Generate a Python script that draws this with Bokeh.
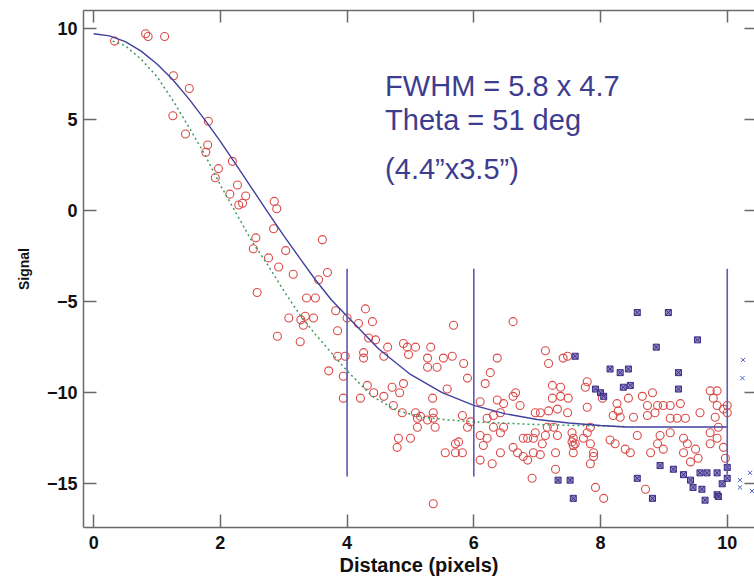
from bokeh.plotting import figure
from bokeh.models import Range1d, LinearAxis, FixedTicker, Label, CustomLabelingPolicy
from bokeh.embed import file_html
from bokeh.resources import INLINE

# ---------------- data ----------------
red_x = [0.33, 0.82, 0.86, 1.12, 1.26, 1.51, 1.81, 1.25, 1.45, 1.8, 1.77, 1.97, 1.92, 2.19, 2.27, 2.15,
         2.4, 2.35, 2.29, 2.85, 2.89, 2.84, 2.56, 2.52, 2.76, 2.92, 3.03, 3.15,
         3.61, 3.69, 3.55, 2.58, 3.36, 3.5, 3.08, 3.27, 3.34, 3.47, 3.31, 3.82, 4.0, 4.29, 4.18, 4.4,
         3.85, 2.9, 3.26, 4.34, 4.45, 4.64, 4.58, 3.85, 3.97, 4.26, 4.26, 3.71, 3.94, 4.32, 4.42, 4.58,
         4.71, 4.83, 4.21, 3.94, 4.73, 4.87, 5.11, 5.11, 5.0, 4.79, 4.95, 5.08, 4.97, 5.68, 6.62, 6.37,
         5.84, 5.32, 5.52, 5.42, 5.27, 4.89, 6.18, 6.66, 6.26, 5.9, 5.58,
         5.66, 5.27, 5.35, 4.89, 5.16, 5.08, 5.36, 5.36, 5.27, 5.39, 5.82, 5.95, 5.9, 5.71, 5.71, 5.55,
         5.82, 6.1, 6.21, 6.15, 6.1, 6.29, 6.1, 6.37, 6.47, 6.62, 6.73, 6.31, 6.42, 6.21, 6.47, 6.42,
         6.31, 6.62, 6.42, 6.69, 6.78, 6.85, 6.94, 7.05, 6.85, 6.94, 7.08, 6.97, 7.13, 7.29, 7.57, 7.57,
         7.57, 7.32, 7.16, 6.97, 7.05, 7.18, 7.32, 7.48, 7.24, 7.37, 7.49, 7.24, 7.37, 7.13, 7.18, 7.41,
         7.48, 7.29, 6.92, 5.36,
         7.79, 7.84, 7.79, 7.55, 7.26, 6.78, 7.89, 7.84, 4.81, 5.76,
         7.79, 7.76, 8.03, 8.66, 8.82, 8.74, 8.9, 8.99, 9.1, 9.26, 9.73, 9.84, 9.78, 9.84, 9.94, 10.0,
         10.0, 8.44, 8.26, 8.28, 8.2, 8.31, 8.52, 8.74, 8.86, 9.1, 9.21, 9.34, 9.57, 9.81, 7.55, 7.6,
         7.73, 7.84, 7.89, 8.15, 8.23, 8.39, 8.47, 8.58, 8.79, 8.9, 8.94, 8.99, 9.1, 9.31, 9.37, 9.31,
         9.5, 9.54, 9.42, 9.73, 9.84, 9.94, 9.97, 9.86, 9.73, 7.92, 8.05, 8.71]
red_y = [9.3, 9.7, 9.55, 9.55, 7.4, 6.7, 4.9, 5.2, 4.2, 3.6, 3.2, 2.3, 1.8, 2.7, 1.4, 0.9,
         0.8, 0.4, 0.3, 0.5, 0.1, -1.0, -1.5, -2.1, -2.6, -3.1, -2.2, -3.5,
         -1.6, -3.4, -3.8, -4.5, -4.8, -4.8, -5.9, -6.0, -5.8, -5.9, -6.3, -5.5, -5.9, -5.4, -6.2, -6.1,
         -6.6, -6.9, -7.2, -7.0, -7.1, -7.5, -8.0, -8.0, -8.0, -7.8, -8.1, -8.8, -9.1, -9.6, -10.0, -10.2,
         -9.7, -10.0, -10.3, -10.3, -10.7, -11.1, -11.4, -11.9, -12.5, -13.0, -7.5, -7.5, -7.9, -6.3, -6.1, -8.1,
         -8.4, -7.5, -8.1, -8.6, -8.6, -7.3, -9.5, -10.0, -8.9, -9.2, -9.8,
         -8.0, -8.1, -10.3, -9.5, -11.3, -11.1, -11.1, -11.4, -11.5, -11.9, -11.25, -11.6, -11.9, -12.8, -13.3, -13.3,
         -13.3, -12.35, -12.5, -12.9, -13.7, -13.9, -10.5, -10.4, -10.6, -10.2, -10.7, -11.25, -11.1, -11.4, -11.9, -12.2,
         -11.9, -13.0, -13.3, -13.3, -13.5, -13.7, -13.3, -13.4, -12.5, -12.5, -12.8, -12.2, -12.35, -13.3, -13.3, -12.9,
         -12.5, -12.35, -11.9, -11.1, -11.1, -11.0, -10.9, -11.1, -10.3, -10.2, -10.3, -9.6, -9.7, -7.7, -8.4, -8.1,
         -8.0, -14.2, -14.7, -16.1,
         -10.8, -11.9, -12.2, -12.7, -11.9, -12.5, -13.5, -13.9, -12.5, -12.7,
         -9.4, -9.7, -10.3, -10.2, -10.0, -10.7, -10.7, -10.7, -10.7, -10.6, -9.9, -9.9, -10.3, -10.7, -10.9, -10.7,
         -11.1, -10.3, -10.6, -11.0, -11.25, -11.35, -11.35, -11.25, -11.1, -11.4, -11.4, -11.4, -11.1, -11.35, -12.2, -12.8,
         -12.5, -12.8, -13.3, -12.6, -12.8, -13.1, -13.3, -12.35, -13.3, -12.8, -12.35, -13.1, -12.2, -12.5, -12.8, -13.3,
         -13.1, -13.6, -13.8, -12.2, -12.5, -13.0, -13.6, -11.9, -12.8, -15.2, -15.8, -15.3]

purple_x = [7.6, 7.33, 7.52, 7.57, 8.58, 9.07, 9.53, 8.88, 8.15, 8.31, 8.44, 8.36, 8.47, 9.23, 9.23,
            7.92, 8.0, 8.05, 8.58, 8.94, 9.15, 9.31, 9.42, 9.57, 9.68, 9.46, 9.6, 9.84, 9.92, 10.0,
            10.0, 9.65, 8.82, 9.84, 9.86]
purple_y = [-8.0, -14.8, -14.8, -15.8, -5.6, -5.6, -7.1, -7.5, -8.7, -8.9, -8.7, -9.7, -9.6, -8.9, -9.8,
            -9.8, -10.0, -10.2, -14.7, -14.0, -14.2, -14.5, -14.8, -14.4, -14.4, -15.2, -15.3, -15.6, -15.0, -14.7,
            -14.1, -15.9, -15.8, -14.4, -15.7]

cross_x = [10.25, 10.24, 10.2, 10.2, 10.39, 10.36]
cross_y = [-8.2, -9.2, -14.8, -15.2, -15.4, -14.4]

fit_x = [0, 0.25, 0.5, 0.75, 1.0, 1.25, 1.5, 1.75, 2.0, 2.25, 2.5, 2.75, 3.0, 3.25, 3.5, 3.75,
         4.0, 4.5, 5.0, 5.5, 6.0, 6.5, 7.0, 7.5, 8.0, 8.4, 9.0, 10.0]
fit_y = [9.7, 9.59, 9.27, 8.75, 8.04, 7.18, 6.14, 5.0, 3.8, 2.5, 1.2, -0.1, -1.38, -2.6, -3.8, -4.9,
         -5.8, -7.6, -9.0, -10.0, -10.7, -11.16, -11.47, -11.66, -11.8, -11.88, -11.88, -11.88]

alt_x = [0.3, 0.5, 0.75, 1.0, 1.25, 1.5, 1.75, 2.0, 2.25, 2.5, 2.75, 3.0, 3.25, 3.5, 3.75, 4.0,
         4.4, 4.8, 5.2, 5.6, 6.0, 7.0, 8.4]
alt_y = [9.3, 9.05, 8.3, 7.35, 6.05, 4.6, 3.1, 1.4, -0.15, -1.7, -3.0, -4.4, -5.7, -6.8, -7.8, -8.8,
         -10.2, -11.0, -11.35, -11.5, -11.6, -11.75, -11.86]

vline_x = [4, 6, 10]
vline_top = [-3.2, -3.2, -3.2]
vline_bottom = [-14.6, -14.6, -14.5]

x_ticks = [0, 2, 4, 6, 8, 10]
y_ticks = [-15, -10, -5, 0, 5, 10]

notes = ["FWHM = 5.8 x 4.7", "Theta = 51 deg", "(4.4\u201dx3.5\u201d)"]
note_y = [6.85, 4.95, 2.3]

# ---------------- figure ----------------
FONT = "Liberation Sans"
AX = "#6a6a6a"

p = figure(width=754, height=583, x_range=Range1d(-0.16, 10.43), y_range=Range1d(-17.4, 10.98),
           output_backend="svg", toolbar_location=None,
           min_border_left=83, min_border_top=10, min_border_bottom=56, min_border_right=0)
p.grid.visible = False
p.outline_line_color = None
p.background_fill_color = "white"
p.border_fill_color = "white"

for ax in (p.xaxis[0], p.yaxis[0]):
    ax.major_tick_in = 13
    ax.major_tick_out = 0
    ax.minor_tick_line_color = None
    ax.axis_line_color = AX
    ax.axis_line_width = 1.5
    ax.major_tick_line_color = AX
    ax.major_tick_line_width = 1.5
    ax.major_label_text_font = FONT
    ax.major_label_text_font_style = "bold"
    ax.major_label_text_font_size = "18px"
    ax.major_label_text_color = "#111111"
    ax.axis_label_text_font = FONT
    ax.axis_label_text_font_style = "bold"
    ax.axis_label_text_color = "#111111"

p.xaxis[0].ticker = FixedTicker(ticks=x_ticks)
p.yaxis[0].ticker = FixedTicker(ticks=y_ticks)
p.xaxis[0].axis_label = "Distance (pixels)"
p.yaxis[0].axis_label = "Signal"
p.xaxis[0].axis_label_text_font_size = "20px"
p.yaxis[0].axis_label_text_font_size = "14px"
p.xaxis[0].major_label_standoff = 8
p.xaxis[0].axis_label_standoff = 2
p.yaxis[0].major_label_standoff = 6
p.yaxis[0].axis_label_standoff = 12


def tick_only_axis(ticks, tick_len, line_color):
    return LinearAxis(ticker=FixedTicker(ticks=ticks),
                      major_label_policy=CustomLabelingPolicy(code="for (const i of indices) indices.unset(i)"),
                      major_label_text_font_size="0px",
                      major_label_standoff=0, major_tick_in=tick_len, major_tick_out=0,
                      minor_tick_line_color=None, axis_line_color=line_color, axis_line_width=1.5,
                      major_tick_line_color=AX, major_tick_line_width=1.5)


p.add_layout(tick_only_axis(x_ticks, 12, AX), "above")
p.add_layout(tick_only_axis(y_ticks, 10, None), "right")

# data marks
p.scatter(red_x, red_y, marker="circle", size=8, fill_color=None,
          line_color="#d94a48", line_width=1.1)
p.scatter(purple_x, purple_y, marker="square_x", size=6, fill_color="#6a55ad", fill_alpha=0.7,
          line_color="#3b2d85", line_width=1)
p.scatter(cross_x, cross_y, marker="x", size=6, line_color="#4a60c8", line_width=1)

p.line(alt_x, alt_y, line_color="#3f9a5e", line_width=1.5, line_dash="2 3")
p.line(fit_x, fit_y, line_color="#40409e", line_width=1.4)
p.segment(x0=vline_x, y0=vline_top, x1=vline_x, y1=vline_bottom, line_color="#5b5bb5", line_width=1.6)

for t, yy in zip(notes, note_y):
    p.add_layout(Label(x=4.6, y=yy, text=t, text_font=FONT, text_font_size="29px",
                       text_color="#3d3d8f", text_baseline="middle"))

open("out.html", "w").write(file_html(p, INLINE))
